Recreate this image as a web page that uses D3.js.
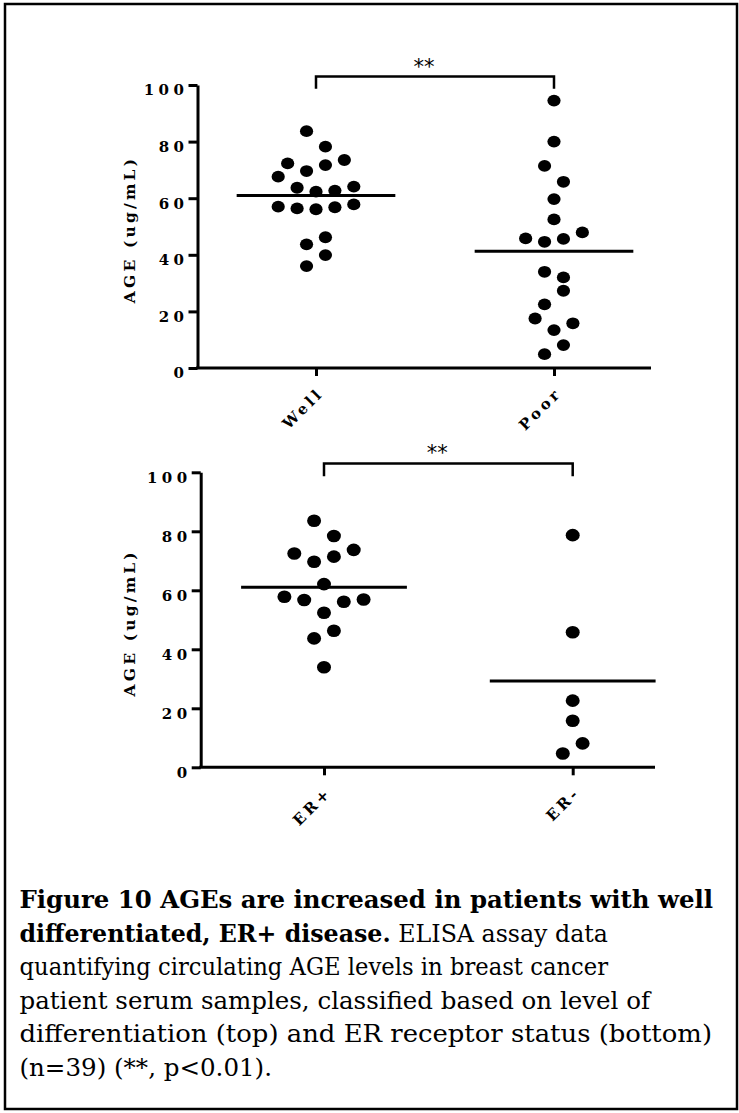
<!DOCTYPE html>
<html>
<head>
<meta charset="utf-8">
<script src="https://cdn.jsdelivr.net/npm/d3@7"></script>
<style>
  body { margin: 0; background: #fff; }
  svg text { font-family: "DejaVu Serif", serif; fill: #000; }
</style>
</head>
<body>
<svg id="fig" width="739" height="1113"></svg>
<script>
var width = 739,
  height = 1113;

// top panel: level of differentiation
var diffGroups = ["Well", "Poor"];
var wellValues = [83.7, 78.2, 73.5, 72.3, 71.7, 69.6, 67.6, 64.1, 63.7, 62.7, 62.3, 57.8, 57.0, 56.8, 56.4, 56.1, 46.2, 43.7, 39.9, 36.0];
var poorValues = [94.5, 80.0, 71.4, 65.8, 59.7, 52.5, 47.9, 45.8, 45.6, 44.6, 34.0, 32.0, 27.3, 22.5, 17.5, 15.8, 13.4, 8.1, 4.9];

// bottom panel: ER status
var erGroups = ["ER+", "ER-"];
var erPosValues = [83.6, 78.4, 73.7, 72.5, 71.4, 69.7, 62.1, 57.8, 56.9, 56.7, 56.1, 52.4, 46.3, 43.7, 33.9];
var erNegValues = [78.7, 45.8, 22.6, 15.8, 8.1, 4.7];

var yTicks = [0, 20, 40, 60, 80, 100];
var yTitle = "AGE (ug/mL)";
var sigLabel = "**";
var sigBar = 103, sigLeg = 98.7;

// caption lines: [bold part, regular part]
var captionLines = [
  ["Figure 10 AGEs are increased in patients with well", ""],
  ["differentiated, ER+ disease.", " ELISA assay data"],
  ["", "quantifying circulating AGE levels in breast cancer"],
  ["", "patient serum samples, classified based on level of"],
  ["", "differentiation (top) and ER receptor status (bottom)"],
  ["", "(n=39) (**, p<0.01)."]
];

var svg = d3.select("#fig");

svg.append("rect")
  .attr("width", width)
  .attr("height", height)
  .attr("fill", "#fff");

// outer frame
svg.append("rect")
  .attr("x", 5)
  .attr("y", 4)
  .attr("width", 732)
  .attr("height", 1105)
  .attr("fill", "none")
  .attr("stroke", "#000")
  .attr("stroke-width", 2.5);

var panels = [
  { groups: diffGroups, values: [wellValues, poorValues], top: 85, bottom: 368, left: 197.5, right: 651, cats: [316, 554], rx: 6.6, ry: 5.9, unit: 9.45 },
  { groups: erGroups, values: [erPosValues, erNegValues], top: 472.3, bottom: 767.3, left: 200.7, right: 655, cats: [324, 572.7], rx: 7, ry: 6.3, unit: 9.9 }
];

panels.forEach(drawPanel);

// rows are built from the bottom up, then spread symmetrically (Prism style)
function swarm(vals, y, p) {
  var sorted = vals.slice().sort(d3.ascending);
  var rows = [];
  sorted.forEach(function (v) {
    var r = rows[rows.length - 1];
    if (r && y(r[0]) - y(v) <= 16) r.push(v);
    else rows.push([v]);
  });

  var placed = [];
  var side = 1;
  rows.forEach(function (row) {
    var desc = row.slice().sort(d3.descending);
    var pts = layout(desc, side);
    if (!fits(pts)) pts = layout(desc, -side);
    if (desc.length > 1) side = -side;
    placed = placed.concat(pts);
  });
  return placed;

  function layout(desc, s) {
    var n = desc.length, out = [], slot = n - 1, sign = s;
    desc.forEach(function (v, i) {
      var k = slot === 0 ? 0 : sign * slot;
      out.push({ v: v, k: k });
      if (i % 2 === 1) slot -= 2;
      sign = -sign;
      if (n % 2 === 1 && i === n - 2) slot = 0;
    });
    return out;
  }

  function fits(pts) {
    return pts.every(function (a) {
      return placed.every(function (b) {
        var dx = (a.k - b.k) * p.unit / (2 * p.rx),
          dy = (y(a.v) - y(b.v)) / (2 * p.ry);
        return dx * dx + dy * dy >= 0.95;
      });
    });
  }
}

function drawPanel(p) {
  var y = d3.scaleLinear()
    .domain([0, 100])
    .range([p.bottom, p.top]);

  var x = d3.scalePoint()
    .domain(p.groups)
    .range(p.cats);

  var step = p.cats[1] - p.cats[0];
  var g = svg.append("g");

  // y axis
  var yAxis = g.append("g")
    .attr("transform", "translate(" + p.left + ",0)")
    .call(d3.axisLeft(y).tickValues(yTicks).tickSize(9).tickSizeOuter(0).tickPadding(0));

  yAxis.select(".domain").attr("stroke-width", 3);
  yAxis.selectAll(".tick line").attr("stroke-width", 3);
  yAxis.selectAll(".tick text")
    .attr("dy", "0.66em")
    .style("font-size", "15px")
    .style("font-weight", "bold")
    .style("letter-spacing", "4.5px")
    .style("font-family", "DejaVu Serif");

  // x axis
  var xAxis = g.append("g")
    .attr("transform", "translate(0," + p.bottom + ")")
    .call(d3.axisBottom(x).tickSize(8).tickSizeOuter(0));

  xAxis.select(".domain").remove();
  xAxis.append("line")
    .attr("x1", p.left - 1.5)
    .attr("x2", p.right)
    .attr("stroke", "#000")
    .attr("stroke-width", 3);
  xAxis.selectAll(".tick line").attr("stroke-width", 3);
  xAxis.selectAll(".tick text")
    .attr("x", 0)
    .attr("y", 0)
    .attr("dy", 0)
    .attr("text-anchor", "end")
    .attr("transform", "translate(8,26) rotate(-45)")
    .style("font-size", "15px")
    .style("font-weight", "bold")
    .style("letter-spacing", "3.5px")
    .style("font-family", "DejaVu Serif");

  // axis title
  g.append("text")
    .attr("transform", "translate(135," + ((p.top + p.bottom) / 2 + 3) + ") rotate(-90)")
    .attr("text-anchor", "middle")
    .style("font-size", "15.5px")
    .style("font-weight", "bold")
    .style("letter-spacing", "3.2px")
    .text(yTitle);

  // points
  p.groups.forEach(function (grp, gi) {
    var pts = swarm(p.values[gi], y, p);
    g.append("g")
      .selectAll("ellipse")
      .data(pts)
      .enter()
      .append("ellipse")
      .attr("cx", function (d) { return x(grp) + d.k * p.unit; })
      .attr("cy", function (d) { return y(d.v); })
      .attr("rx", p.rx)
      .attr("ry", p.ry)
      .attr("fill", "#000");

    // mean line
    var m = d3.mean(p.values[gi]);
    g.append("line")
      .attr("x1", x(grp) - step / 3)
      .attr("x2", x(grp) + step / 3)
      .attr("y1", y(m))
      .attr("y2", y(m))
      .attr("stroke", "#000")
      .attr("stroke-width", 3);
  });

  // significance bracket
  var x0 = x(p.groups[0]), x1 = x(p.groups[1]);
  g.append("path")
    .attr("d", "M" + x0 + "," + y(sigLeg) + "V" + y(sigBar) + "H" + x1 + "V" + y(sigLeg))
    .attr("fill", "none")
    .attr("stroke", "#000")
    .attr("stroke-width", 2.5);

  g.append("text")
    .attr("x", (x0 + x1) / 2 - 11)
    .attr("y", y(sigBar) - 3)
    .attr("text-anchor", "middle")
    .style("font-family", "DejaVu Sans")
    .style("font-size", "21px")
    .text(sigLabel);
}

// caption
var capX = 19.5, capY = 908, capLead = 33.5;
var capEnds = [713, 608, 608, 650, 712, 272];

captionLines.forEach(function (line, i) {
  var t = svg.append("text")
    .attr("x", capX)
    .attr("y", capY + capLead * i)
    .attr("textLength", capEnds[i] - capX)
    .attr("lengthAdjust", "spacingAndGlyphs")
    .style("font-family", "DejaVu Serif")
    .style("font-size", "25px");
  if (line[0]) t.append("tspan").style("font-weight", "bold").text(line[0]);
  if (line[1]) t.append("tspan").style("font-weight", "normal").text(line[1]);
});
</script>
</body>
</html>
